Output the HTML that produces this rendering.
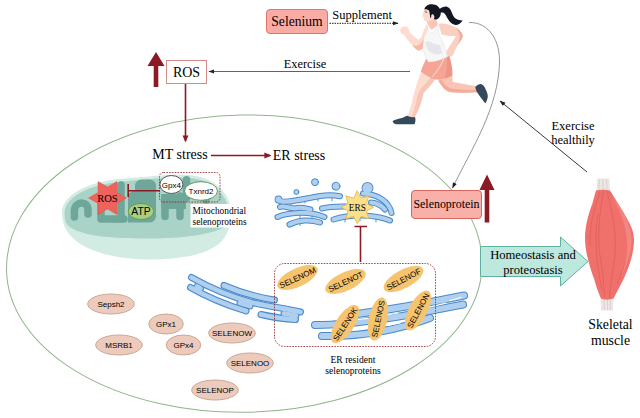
<!DOCTYPE html>
<html lang="en">
<head>
<meta charset="utf-8">
<title>Selenium, exercise and selenoproteins in skeletal muscle</title>
<style>
html,body{margin:0;padding:0;background:#fff;}
body{width:640px;height:418px;overflow:hidden;}
svg{display:block;}
.serif{font-family:"Liberation Serif","Times New Roman",serif;fill:#000;}
.sans{font-family:"Liberation Sans",Arial,sans-serif;fill:#000;}
</style>
</head>
<body>
<svg width="640" height="418" viewBox="0 0 640 418">
<defs>
  <marker id="ahk" viewBox="0 0 10 10" refX="9" refY="5" markerWidth="6" markerHeight="6" orient="auto-start-reverse" markerUnits="userSpaceOnUse">
    <path d="M0,1.5 L10,5 L0,8.5 Z" fill="#222"/>
  </marker>
  <marker id="ahr" viewBox="0 0 10 10" refX="8" refY="5" markerWidth="7" markerHeight="7" orient="auto" markerUnits="userSpaceOnUse">
    <path d="M0,0.800 L10,5 L0,9.200 Z" fill="#8b1a22"/>
  </marker>
</defs>
<rect width="640" height="418" fill="#fff"/>

<!-- CELL OUTLINE -->
<path id="cell" transform="rotate(-1 244.300 266)" d="M6.500,266 A237.800,151 0 0 1 482.100,266 A237.800,146.300 0 0 1 6.500,266 Z" fill="none" stroke="#8fb58a" stroke-width="1"/>

<!-- TOP ROW -->
<g id="top">
  <rect x="266.500" y="9.500" width="61" height="24" rx="3.500" fill="#f9aca4" stroke="#e0736c" stroke-width="1"/>
  <text class="serif" x="297" y="25.700" font-size="13.600" text-anchor="middle">Selenium</text>
  <text class="serif" x="362.200" y="19" font-size="12.500" text-anchor="middle">Supplement</text>
  <line x1="329.500" y1="23.300" x2="398" y2="23.300" stroke="#222" stroke-width="1" stroke-dasharray="1.500 1" marker-end="url(#ahk)"/>
  <line x1="410" y1="71.500" x2="209" y2="71.500" stroke="#3a3a3a" stroke-width="0.800" marker-end="url(#ahk)"/>
  <text class="serif" x="305" y="67.500" font-size="12.400" text-anchor="middle">Exercise</text>
  <!-- ROS box -->
  <rect x="166.500" y="60.500" width="40" height="23" fill="#fff" stroke="#d88a84" stroke-width="1"/>
  <text class="serif" x="186.500" y="77" font-size="14" text-anchor="middle">ROS</text>
  <path d="M156,52 L164.500,66 L158.300,66 L158.300,87 L153.700,87 L153.700,66 L147.500,66 Z" fill="#8b1a22"/>
  <line x1="185.500" y1="84" x2="185.500" y2="141" stroke="#8b1a22" stroke-width="1.600" marker-end="url(#ahr)"/>
  <!-- stress row -->
  <text class="serif" x="180" y="159" font-size="14" text-anchor="middle">MT stress</text>
  <line x1="211" y1="155.500" x2="270" y2="155.500" stroke="#8b1a22" stroke-width="1.600" marker-end="url(#ahr)"/>
  <text class="serif" x="299" y="160" font-size="14" text-anchor="middle">ER stress</text>
</g>

<!-- MITOCHONDRION -->
<g id="mito">
  <!-- outer membrane + lower rim -->
  <path d="M62,213 C62,193 92,179 138,177.500 C160,175.500 180,173.500 196,176 C212,179 223,188 228,199 C233.500,211 232,232 220,243 C205,256 176,259.500 150,259.500 C112,259.500 62,249 62,213 Z" fill="#d2ebe3"/>
  <!-- body -->
  <path d="M64.500,214 C64.500,195 93,182 138,180.200 C160,178.200 180,176.200 195.500,178.700 C210,181.500 220.500,189.500 225.500,200 C229.500,209 230,219 226,226.500 C211,235 180,238.500 150,238.500 C110,238.500 75,236 66,223 C65,220 64.500,217 64.500,214 Z" fill="#a8d3c6"/>
  <!-- matrix (dark) -->
  <g stroke="#6ea799" stroke-width="7.500" stroke-linecap="round" stroke-linejoin="round" fill="none">
    <path d="M74.400,217 V211 C74.400,201 88,200 88,210 V214"/>
    <path d="M101,198 V219 H124"/>
    <path d="M121,185 V219"/>
    <path d="M165,198 V216.500"/>
    <path d="M180,196 V216.500"/>
    <path d="M186.500,179.800 V198"/>
    <path d="M206,196 V200"/>
  </g>
  <path d="M128,222.500 V196 C128,193 131,192 135,190 V186 C135,182 138,179.500 142,179.500 H149 C153,179.500 156,182 156,186 V216 C156,219.500 153,222.500 150,222.500 Z" fill="#6ea799"/>
  <path d="M161.300,194 H186 V209 H161.300 Z" fill="#6ea799"/>
  <!-- white label box -->
  <rect x="190.500" y="204" width="57" height="23.500" fill="#fff"/>
  <text class="serif" x="192.500" y="214.300" font-size="9.400">Mitochondrial</text>
  <text class="serif" x="192.500" y="224.800" font-size="9.400">selenoproteins</text>
  <!-- ROS star -->
  <path d="M126.4,198.0 L116.9,203.4 L117.0,214.4 L107.5,208.9 L98.1,214.4 L98.1,203.4 L88.6,198.0 L98.1,192.6 L98.0,181.6 L107.5,187.1 L117.0,181.6 L116.9,192.5 Z" fill="#f0625c" stroke="#e04c46" stroke-width="0.500"/>
  <text class="serif" x="107.500" y="201.500" font-size="10.500" text-anchor="middle">ROS</text>
  <!-- ATP -->
  <ellipse cx="141" cy="211.500" rx="12.700" ry="8" fill="#a9cf80" stroke="#6e9a4c" stroke-width="1"/>
  <text class="sans" x="141" y="215.300" font-size="10.300" text-anchor="middle">ATP</text>
  <!-- inhibition -->
  <path d="M128.200,184 L128.200,197 M128.200,190.800 L160,190.800" stroke="#8b1a22" stroke-width="1.600" fill="none"/>
  <!-- selenoprotein dashed box -->
  <rect x="159.500" y="172.500" width="60.500" height="29.500" rx="4" fill="none" stroke="#8b1a22" stroke-width="0.800" stroke-dasharray="1.600 1.200"/>
  <ellipse cx="171.400" cy="184.500" rx="11.500" ry="9" fill="#fff" stroke="#444" stroke-width="0.900"/>
  <text class="sans" x="171.400" y="187.500" font-size="8" text-anchor="middle">Gpx4</text>
  <ellipse cx="201" cy="191" rx="16.500" ry="9.300" fill="#fff" stroke="#5e8f4e" stroke-width="0.900"/>
  <text class="sans" x="201" y="194" font-size="8" text-anchor="middle">Txnrd2</text>
</g>

<!-- UPPER ER -->
<g id="er1" fill="none" stroke-linecap="round" stroke-linejoin="round">
  <g stroke="#4a89cc" stroke-width="6">
    <path d="M279,200.500 C284,204 300,199.500 320,196 C328,194.800 334,195 340,196.300"/>
    <path d="M280,207 C285,205 290,209.500 297,208 C302,207 306,208.500 310.500,209.500"/>
    <path d="M322,208.500 C330,206.500 338,206.300 346,206.500"/>
    <path d="M277.500,217 C288,212.500 308,210.500 324.500,217"/>
    <path d="M289.500,224.500 C298,220 310,219 320,222.500"/>
    <path d="M363,193.500 C377,194 389,201 391.500,213"/>
    <path d="M371,202.500 C377,203 382,206 385,209.500"/>
    <path d="M333.500,219.500 C350,214 374,214 390,220.500"/>
  </g>
  <g fill="#4a89cc" stroke="none"><circle cx="278.500" cy="199.500" r="3.900"/><circle cx="367.500" cy="188" r="6"/></g>
  <g stroke="#4a89cc" stroke-width="0.900"><path d="M291,202 v3 M305,200 v3 M318,198 v3 M300,215 v2.500 M312,216 v2.500 M345,219 v3 M360,218 v3 M376,219 v3 M300,223 v2.500 M332,198 v3"/></g>
  <g stroke="#aed0ee" stroke-width="4">
    <path d="M279,200.500 C284,204 300,199.500 320,196 C328,194.800 334,195 340,196.300"/>
    <path d="M280,207 C285,205 290,209.500 297,208 C302,207 306,208.500 310.500,209.500"/>
    <path d="M322,208.500 C330,206.500 338,206.300 346,206.500"/>
    <path d="M277.500,217 C288,212.500 308,210.500 324.500,217"/>
    <path d="M289.500,224.500 C298,220 310,219 320,222.500"/>
    <path d="M363,193.500 C377,194 389,201 391.500,213"/>
    <path d="M371,202.500 C377,203 382,206 385,209.500"/>
    <path d="M333.500,219.500 C350,214 374,214 390,220.500"/>
  </g>
  <g fill="#aed0ee" stroke="none"><circle cx="278.500" cy="199.500" r="3"/><circle cx="367.500" cy="188" r="5.100"/></g>
  <g fill="#aed0ee" stroke="#4a89cc" stroke-width="1"><circle cx="315" cy="182.200" r="3.500"/><circle cx="296.400" cy="192" r="2.500"/><circle cx="336" cy="186.200" r="4"/></g>
  <path d="M357.3,191.1 L361.1,198.1 L368.8,195.8 L366.5,203.5 L373.5,207.3 L366.5,211.1 L368.8,218.8 L361.1,216.5 L357.3,223.5 L353.5,216.5 L345.8,218.8 L348.1,211.1 L341.1,207.3 L348.1,203.5 L345.8,195.8 L353.5,198.1 Z" fill="#fbe08a" stroke="#d9b24c" stroke-width="0.800" stroke-linejoin="miter"/>
  <text class="serif" x="357.300" y="210.600" font-size="9.300" text-anchor="middle" stroke="none">ERS</text>
  <path d="M354.500,226.500 H367 M360.500,226.500 V262" stroke="#8b1a22" stroke-width="1.600" stroke-linecap="butt"/>
</g>

<!-- SELENOPROTEIN BOX / HOMEOSTASIS / MUSCLE -->
<g id="right">
  <rect x="411.500" y="190.500" width="70" height="28" rx="3.500" fill="#f9b0a8" stroke="#d9655f" stroke-width="1"/>
  <text class="serif" x="446.500" y="208" font-size="11.900" text-anchor="middle">Selenoprotein</text>
  <path d="M487,174.500 L494.500,190 L489.300,190 L489.300,222.500 L484.700,222.500 L484.700,190 L479.500,190 Z" fill="#8b1a22"/>
  <path d="M480.500,246.500 H560.500 V237 L588,261.500 L560.500,286 V276.500 H480.500 Z" fill="#bde8dd" stroke="#62b0a0" stroke-width="1" stroke-linejoin="miter"/>
  <text class="serif" x="533" y="259" font-size="12.600" text-anchor="middle">Homeostasis and</text>
  <text class="serif" x="533" y="273.800" font-size="12.600" text-anchor="middle">proteostasis</text>
  <!-- muscle -->
  <path d="M597,178.500 L609.500,178.500 L610,193 L596.500,193 Z" fill="#ece6e4"/>
  <path d="M600.500,296 L613.500,296 L613,310.500 L601,310.500 Z" fill="#ece6e4"/>
  <path d="M599.500,179 L598.800,192 M603,179 L603,192 M606.500,179 L607,192 M604,298 L604.500,310 M607.500,298 L607.500,310 M610.500,298 L610,310" stroke="#d2c8c6" stroke-width="0.700" fill="none"/>
  <path d="M596,190.500 C600,189.500 606,189.500 610,190.500 C614,197 622,209 627,218.600 C631,226 634,232 634,240 C634,254 628,270 623.200,279.800 C619,288 616,294 613.500,298.500 C610,300 604,300 601,298.500 C598,292 596,286 594.400,279.800 C590,268 585,252 585,238 C585,226 589,212 592.500,203.300 C593.500,199 595,194 596,190.500 Z" fill="#f0716c"/>
  <path d="M600,192 C594,210 589,226 590,246 M603.500,191 C600,212 596,236 601,262 C603,274 604,286 604.500,297 M607,191 C612,212 618,236 614,262 C612,276 610,288 609.500,298 M609.500,192 C620,208 629,224 629,242 C629,258 622,272 617,284 M598,214 C594,236 596,262 602,290" stroke="#d9504c" stroke-width="0.700" fill="none" opacity="0.700"/>
  <path d="M610,193 C620,206 631,222 631.500,240 C631.500,256 624,270 618,284 C625,268 628,254 627,240 C626,222 618,206 610,193 Z" fill="#f79a92" opacity="0.600"/>
  <text class="serif" x="610.500" y="328.500" font-size="13.800" text-anchor="middle">Skeletal</text>
  <text class="serif" x="610.500" y="345" font-size="13.800" text-anchor="middle">muscle</text>
  <!-- exercise healthily -->
  <text class="serif" x="573" y="130" font-size="12.500" text-anchor="middle">Exercise</text>
  <text class="serif" x="573" y="144" font-size="12.500" text-anchor="middle">healthily</text>
  <line x1="587" y1="172" x2="500" y2="101" stroke="#222" stroke-width="0.900" marker-end="url(#ahk)"/>
  <!-- curve from runner to selenoprotein -->
  <path d="M469,22.500 C490,22 500,42 499.500,62 C498.500,108 472,148 452.500,188" fill="none" stroke="#7a7a7a" stroke-width="0.800" marker-end="url(#ahk)"/>
</g>

<!-- LOWER ER -->
<g id="er2" fill="none" stroke-linecap="round" stroke-linejoin="round">
  <g stroke="#4a89cc" stroke-width="7">
    <path d="M191.500,277.500 C210,288 232,297 252,302.500 C268,306.500 286,308.500 300.500,312"/>
    <path d="M190.500,287.500 C207,297 228,305.500 246,311"/>
    <path d="M224,285.500 C240,292.500 258,297.500 274.500,300"/>
    <path d="M261,314.500 C272,317 285,319 295.500,319.500"/>
    <path d="M197,286.500 L200.500,288.500"/>
    <path d="M240,303 L250,306"/>
    <path d="M284,313.500 L296,315.500"/>
  </g>
  <g stroke="#aed0ee" stroke-width="4.8">
    <path d="M191.500,277.500 C210,288 232,297 252,302.500 C268,306.500 286,308.500 300.500,312"/>
    <path d="M190.500,287.500 C207,297 228,305.500 246,311"/>
    <path d="M224,285.500 C240,292.500 258,297.500 274.500,300"/>
    <path d="M261,314.500 C272,317 285,319 295.500,319.500"/>
    <path d="M197,286.500 L200.500,288.500"/>
    <path d="M240,303 L250,306"/>
    <path d="M284,313.500 L296,315.500"/>
  </g>
  <g stroke="#4a89cc" stroke-width="8">
    <path d="M357,314 C395,309 435,301.500 464,295.500"/>
    <path d="M315,325 C360,325 420,313 463,304.500"/>
    <path d="M322,336 C365,337 400,329 430,318"/>
  </g>
  <g stroke="#aed0ee" stroke-width="6">
    <path d="M357,314 C395,309 435,301.500 464,295.500"/>
    <path d="M315,325 C360,325 420,313 463,304.500"/>
    <path d="M322,336 C365,337 400,329 430,318"/>
  </g>
  <g stroke="#fff" stroke-width="1.200"><path d="M384,315.500 L398,313"/><path d="M426,308 L446,303"/><path d="M450,300.500 L461,297.500"/><path d="M358,319.300 L368,318.300"/><path d="M388,325.500 L400,323"/></g>
</g>
<!-- ER RESIDENT SELENOPROTEINS -->
<g id="erres">
  <rect x="274.500" y="263.500" width="161" height="83" rx="10" fill="none" stroke="#8b1a22" stroke-width="0.800" stroke-dasharray="1.600 1.200"/>
  <g transform="translate(297.5,277.5) rotate(-25)"><ellipse rx="22" ry="9.200" fill="#f6c46f"/><text class="sans" y="3.100" font-size="8" text-anchor="middle">SELENOM</text></g>
  <g transform="translate(345.5,281.5) rotate(-25)"><ellipse rx="22" ry="9.200" fill="#f6c46f"/><text class="sans" y="3.100" font-size="8" text-anchor="middle">SELENOT</text></g>
  <g transform="translate(403.5,279) rotate(-28)"><ellipse rx="22" ry="9.200" fill="#f6c46f"/><text class="sans" y="3.100" font-size="8" text-anchor="middle">SELENOF</text></g>
  <g transform="translate(345,324) rotate(-57)"><ellipse rx="22" ry="9.200" fill="#f6c46f"/><text class="sans" y="3.100" font-size="8" text-anchor="middle">SELENOK</text></g>
  <g transform="translate(378,319) rotate(-78)"><ellipse rx="22" ry="9.200" fill="#f6c46f"/><text class="sans" y="3.100" font-size="8" text-anchor="middle">SELENOS</text></g>
  <g transform="translate(418,310.5) rotate(-62)"><ellipse rx="22" ry="9.200" fill="#f6c46f"/><text class="sans" y="3.100" font-size="8" text-anchor="middle">SELENON</text></g>
  <text class="serif" x="353" y="362.500" font-size="9.600" text-anchor="middle">ER resident</text>
  <text class="serif" x="353" y="374" font-size="9.600" text-anchor="middle">selenoproteins</text>
</g>
<!-- CYTOSOLIC SELENOPROTEINS -->
<g id="cyto">
  <ellipse cx="111" cy="304" rx="23.300" ry="10" fill="#eccbbd" stroke="#c79f8e" stroke-width="0.900"/><text class="sans" x="111" y="307.2" font-size="8" text-anchor="middle">Sepsh2</text>
  <ellipse cx="166" cy="324" rx="17.300" ry="10" fill="#eccbbd" stroke="#c79f8e" stroke-width="0.900"/><text class="sans" x="166" y="327.2" font-size="8" text-anchor="middle">GPx1</text>
  <ellipse cx="119" cy="345" rx="23.300" ry="10" fill="#eccbbd" stroke="#c79f8e" stroke-width="0.900"/><text class="sans" x="119" y="348.2" font-size="8" text-anchor="middle">MSRB1</text>
  <ellipse cx="183.5" cy="345" rx="17.300" ry="10" fill="#eccbbd" stroke="#c79f8e" stroke-width="0.900"/><text class="sans" x="183.5" y="348.2" font-size="8" text-anchor="middle">GPx4</text>
  <ellipse cx="232" cy="333" rx="23.300" ry="10" fill="#eccbbd" stroke="#c79f8e" stroke-width="0.900"/><text class="sans" x="232" y="336.2" font-size="8" text-anchor="middle">SELENOW</text>
  <ellipse cx="250" cy="363" rx="23.300" ry="10" fill="#eccbbd" stroke="#c79f8e" stroke-width="0.900"/><text class="sans" x="250" y="366.2" font-size="8" text-anchor="middle">SELENOO</text>
  <ellipse cx="215" cy="390" rx="23.300" ry="10" fill="#eccbbd" stroke="#c79f8e" stroke-width="0.900"/><text class="sans" x="215" y="393.2" font-size="8" text-anchor="middle">SELENOP</text>
</g>

<!-- RUNNER -->
<g id="runner">
  <!-- back arm -->
  <path d="M438.700,24 C443,22.800 449,24 455.500,27.500 C459,29.500 462.300,32.500 462.800,35.500 C463,38 460,41.500 457.200,46 C455.700,48.500 454.500,51.500 453.500,54 C452.500,56.800 449.500,57.300 447.500,55.800 C445.800,54.300 446,51.500 447.500,49.500 C449.500,46 453,41 456,36.200 C451,36 446,35.500 441.500,34.500 Z" fill="#fbd0c1"/>
  <path d="M455.500,27.500 C459,29.500 462.300,32.500 462.800,35.500 C463,38 460,41.500 457.200,46 C459,41 460.500,37.500 459.500,34.500 C458.500,32 457,29.500 455.500,27.500 Z" fill="#f3ab9a"/>
  <!-- back leg -->
  <path d="M437,76 C442,78 448,77.500 452.300,75 C452.800,77.500 452.700,80 452.500,81.800 C460,83.300 468,84.800 476.200,86.300 L477.800,92.200 C468,92.800 459,92.800 451,92.200 C446.500,91.800 442.500,87.500 438.500,81 Z" fill="#f9c6b6"/>
  <path d="M438.500,81 C442.500,87.500 446.500,91.800 451,92.200 C459,92.800 468,92.800 477.800,92.200 L477.300,90 C469,90 460,89.800 452.500,88.800 C447.500,87.800 444,84 441.500,79.500 Z" fill="#f3ab9a"/>
  <!-- back shoe -->
  <path d="M475.300,87 C477,85 479.500,83.800 481,84 C483,84.500 484.500,86.500 485.500,89 C487,92 488.200,95 487.700,97.500 C487.300,100 486,102.500 485.200,103.300 C483,100.500 480,96.500 478,93.500 C476.500,91.500 475.500,89 475.300,87 Z" fill="#34495c"/>
  <!-- front leg -->
  <path d="M421.500,71 C426,74 431,77 435.500,79 C432,84 427,89 423.500,93 C422.500,98 421,103 419.500,107 C418,111 416,114.500 414.500,117.500 L407.500,116.500 C409,112 410.500,108 411.500,104 C412.500,100 413,96 414.200,93 C416,86 418.500,78 421.500,71 Z" fill="#fddccf"/>
  <path d="M435.500,79 C432,84 427,89 423.500,93 C422.500,98 421,103 419.500,107 C418,111 416,114.500 414.500,117.500 L411.500,117.100 C413.500,112 415.500,106 416.500,100 C417.500,95 419,91 421.500,88 C424.500,84.500 428.500,80.500 431,77 Z" fill="#f9c6b6"/>
  <!-- front shoe -->
  <path d="M392.700,121 C395,119.500 399,118.800 402,118 C404,117.300 405.500,116.300 407,115.800 C409.500,117 412.500,117.500 415,117 C415.800,119 415.600,122 414.500,124.300 L396,124.300 C394,123.800 392.500,122.500 392.700,121 Z" fill="#34495c"/>
  <!-- shorts -->
  <path d="M426,59 C433,60.500 442,59 449.300,56 C451,62 452.800,69 452.300,75.500 C447,78.300 441,79.800 435.500,79.500 C430.500,78.200 425,75 420.800,71.500 C422.300,67 424.300,63 426,59 Z" fill="#f5a594"/>
  <path d="M443.800,58.500 C441,66 436.500,72 432.300,77" fill="none" stroke="#fde3d9" stroke-width="0.900"/>
  <path d="M449.300,56 C451,62 452.800,69 452.300,75.500 C449.500,77 447,78 444.500,78.700 C446.500,72 447.500,64 447,57 Z" fill="#ee8f7e" opacity="0.700"/>
  <!-- neck -->
  <path d="M426.500,20.500 L428.200,25.500 L431.500,30 L438,25 L435.800,18 Z" fill="#f9c6b6"/>
  <!-- torso (tank top) -->
  <path d="M426.300,24.400 C426.800,28.500 428.600,32.300 431.500,32.600 C434.600,32.300 436.800,28 437.300,23.400 L439.700,24.900 C438.700,28 438.500,31 438.700,33.500 C439.500,36.500 441.500,38.500 442.500,41 C444,45 445.500,50 446.500,54 C446.800,55.300 447,56.300 447,57 C441,60 434,62 428.300,62 C426.300,58.500 424.500,54.500 423.300,51 C421.800,47.500 420.300,44.500 420.500,42 C420.800,39 422,36.500 423.200,33.500 C424.300,30.500 425.300,27 426.300,24.400 Z" fill="#f7f7f8" stroke="#d9d9de" stroke-width="0.400"/>
  <path d="M425.500,42 C427.500,40.500 430.500,41 432.500,43 C434.500,45 437.500,44 439.500,45 C441.500,47 440.500,50 442.500,53 C439,55 434.500,54.500 431,52.500 C427.500,50.500 425.500,46 425.500,42 Z" fill="#e2e2e7" opacity="0.850"/>
  <!-- front arm -->
  <path d="M426.900,25 C425.500,27.500 424.500,29.500 423.800,31.100 C422.800,33.500 422.300,35.500 421.700,37.300 C420.500,38.500 419.500,39.300 418.300,39.700 C415.500,37.500 412,34.200 409.300,31.900 C409.600,29 407.500,26.300 404.500,26.300 C401.500,26.500 399.800,29 400.300,31.500 C400.800,33.500 402,34.500 403.600,34.600 C406,38 409,41.500 412.100,45.100 C414,47.500 416,49.500 418.300,50.500 C420,50.600 421.700,49.500 422.700,48.200 C423,45 423.300,42 423.800,38.900 C424.500,37 425.300,35 426.100,33.400 C427,31.500 427.800,29.500 428.400,28 Z" fill="#fddccf"/>
  <path d="M412.100,45.100 C414,47.500 416,49.500 418.300,50.500 C420,50.600 421.700,49.500 422.700,48.200 C423,45 423.300,42 423.800,38.900 C422,42.500 419.500,45 416.500,45.800 C415,46 413.500,45.700 412.100,45.100 Z" fill="#f6b9a8"/>
  <!-- head -->
  <path d="M424.600,8.800 C424,10.500 423.300,12 422.900,13.400 L422.300,16.600 L423.600,17.200 L424,19.400 C424.500,21.200 426,21.800 428,21.300 L433.500,19.800 L434,8 Z" fill="#fddccf"/>
  <!-- hair -->
  <path d="M424.400,9.300 C424.800,6.300 428,4.200 432,4.200 C436.500,4.200 440,7 440.700,11.500 C441.200,15 439.800,17.500 437.600,19 C436,19.800 434.300,19.600 433.800,18.800 C434.800,17.500 434.300,15.500 433.300,14.500 C432.200,14 431.200,14.700 431.200,16 C431.300,17 431,18 430.500,18.300 C429.800,16 429.800,12.500 429,10.500 C427.500,9.200 425.800,9 424.400,9.300 Z" fill="#131722"/>
  <path d="M439,9.500 C441,7.800 444,6.500 446.500,6.600 C449.500,7.500 450.800,10 451.800,12.500 C452.800,15.500 454,17.500 456,18.800 C458,20 460.500,20.500 462.700,20.400 C461,23 458.500,25 455.500,25 C451.500,24.300 449,21 447,17.500 C445.800,15 444.800,13.500 443.500,12.700 C442,12.200 440.800,12.500 440,12.800 Z" fill="#131722"/>
  <path d="M425.300,12.600 L427.200,12.400 M424.600,11.300 L427,10.900" stroke="#3a2a2a" stroke-width="0.500" fill="none"/>
</g>

</svg>
</body>
</html>
